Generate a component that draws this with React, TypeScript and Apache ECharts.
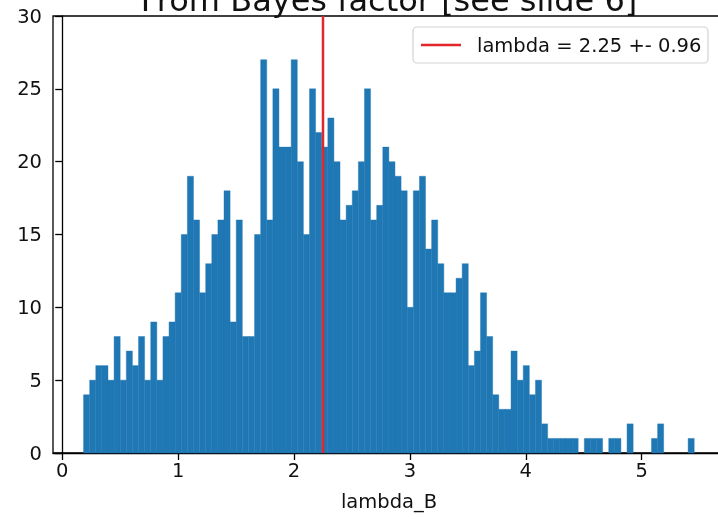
import React, { useEffect, useRef } from "react";
import * as echarts from "echarts";

// Histogram of lambda_B samples (100 bins)
const binStart = 0.184;
const binWidth = 0.05269;
const counts = [
  4, 5, 6, 6, 5, 8, 5, 7, 6, 8,
  5, 9, 5, 8, 9, 11, 15, 19, 16, 11,
  13, 15, 16, 18, 9, 16, 8, 8, 15, 27,
  16, 25, 21, 21, 27, 20, 15, 25, 22, 21,
  23, 20, 16, 17, 18, 20, 25, 16, 17, 21,
  20, 19, 18, 10, 18, 19, 14, 16, 13, 11,
  11, 12, 13, 6, 7, 11, 8, 4, 3, 3,
  7, 5, 6, 4, 5, 2, 1, 1, 1, 1,
  1, 0, 1, 1, 1, 0, 1, 1, 0, 2,
  0, 0, 0, 1, 2, 0, 0, 0, 0, 1,
];
const xTickValues = [0, 1, 2, 3, 4, 5];
const lambdaMean = 2.25;
const legendLabel = "lambda = 2.25 +- 0.96";
const titleText = "From Bayes factor [see slide 6]";
const xAxisName = "lambda_B";

export default function App() {
  const ref = useRef<HTMLDivElement>(null);
  useEffect(() => {
    if (!ref.current) return;
    const chart = echarts.init(ref.current, undefined, { renderer: "svg" });
    const font = "DejaVu Sans";
    const data = counts.map((c, i) => [
      binStart + i * binWidth,
      binStart + (i + 1) * binWidth,
      c,
    ]);
    chart.setOption({
      animation: false,
      title: {
        text: titleText,
        left: "center",
        top: -21,
        textStyle: { fontFamily: font, fontSize: 32, fontWeight: "normal", color: "#111" },
      },
      grid: {
        left: 53,
        top: 16,
        width: 672,
        height: 437,
        show: true,
        borderColor: "#000",
        borderWidth: 1.3,
        backgroundColor: "#fff",
      },
      xAxis: {
        type: "value",
        min: -0.0796,
        max: 5.7186,
        name: xAxisName,
        nameLocation: "middle",
        nameGap: 38,
        nameTextStyle: { fontFamily: font, fontSize: 19.5, color: "#111" },
        axisLine: { show: true, lineStyle: { color: "#000", width: 1.3 } },
        axisTick: {
          show: true,
          length: 7,
          customValues: xTickValues,
          lineStyle: { color: "#000", width: 1.3 },
        },
        axisLabel: {
          customValues: xTickValues,
          margin: 7,
          fontFamily: font,
          fontSize: 19.5,
          color: "#111",
        },
        splitLine: { show: false },
      },
      yAxis: {
        type: "value",
        min: 0,
        max: 30,
        interval: 5,
        axisLine: { show: true, lineStyle: { color: "#000", width: 1.3 } },
        axisTick: { show: true, length: 7, lineStyle: { color: "#000", width: 1.3 } },
        axisLabel: { margin: 11, fontFamily: font, fontSize: 19.5, color: "#111" },
        splitLine: { show: false },
      },
      series: [
        {
          type: "custom",
          name: "lambda_B",
          data,
          encode: { x: [0, 1], y: 2 },
          renderItem: (params: any, api: any) => {
            const x0 = api.value(0);
            const x1 = api.value(1);
            const h = api.value(2);
            if (!h) return null;
            const p0 = api.coord([x0, h]);
            const p1 = api.coord([x1, 0]);
            return {
              type: "rect",
              shape: { x: p0[0], y: p0[1], width: p1[0] - p0[0], height: p1[1] - p0[1] },
              style: { fill: "#1f77b4", stroke: "#1f77b4", lineWidth: 0.4 },
            };
          },
          z: 2,
        },
        {
          type: "line",
          name: legendLabel,
          data: [
            [lambdaMean, 0],
            [lambdaMean, 30],
          ],
          symbol: "none",
          lineStyle: { color: "#e3262b", width: 2.5 },
          z: 5,
        },
      ],
      graphic: [
        {
          type: "rect",
          shape: { x: 413, y: 27, width: 295, height: 36, r: 4 },
          style: { fill: "rgba(255,255,255,0.85)", stroke: "#d3d3d3", lineWidth: 1.2 },
          z: 10,
        },
        {
          type: "line",
          shape: { x1: 421, y1: 45, x2: 461, y2: 45 },
          style: { stroke: "#e3262b", lineWidth: 2.5 },
          z: 11,
        },
        {
          type: "text",
          x: 477,
          y: 45,
          style: {
            text: legendLabel,
            fontFamily: font,
            fontSize: 19.5,
            fill: "#111",
            verticalAlign: "middle",
            align: "left",
          },
          z: 11,
        },
      ],
    });
    return () => chart.dispose();
  }, []);
  return (
    <div
      ref={ref}
      style={{ position: "fixed", left: 0, top: 0, width: 778, height: 519 }}
    />
  );
}
